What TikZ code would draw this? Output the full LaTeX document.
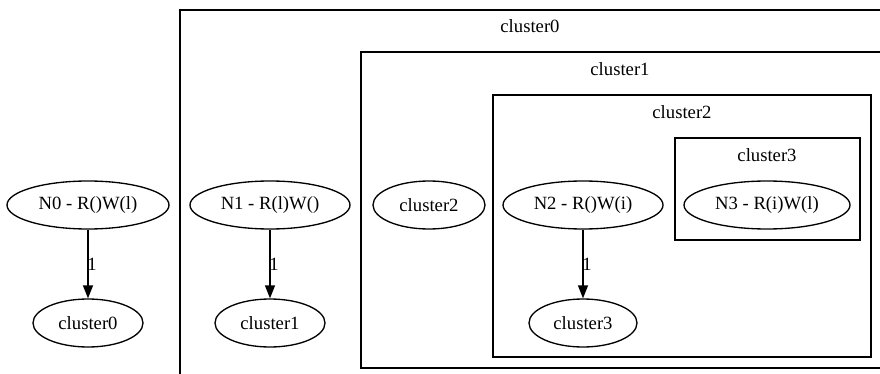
\documentclass[tikz,border=0pt]{standalone}
\usepackage{fontspec}
\setmainfont{Liberation Serif}
\usetikzlibrary{shapes.geometric,arrows.meta}
\begin{document}
\begin{tikzpicture}[x=1pt,y=-1pt,
  every node/.style={font=\fontsize{18.67}{22}\selectfont},
  gnode/.style={draw, ellipse, line width=1.33pt, inner sep=0pt, minimum height=48pt},
  cbox/.style={draw, line width=1.33pt},
  clabel/.style={inner sep=0pt, anchor=center},
  flow/.style={line width=1.33pt, -{Triangle[length=13pt,width=10pt]}},
  elabel/.style={inner sep=0pt, anchor=center}]
  \useasboundingbox (0,0) rectangle (880,374);
  \clip (0,0) rectangle (880,374);

  % nested cluster frames
  \draw[cbox] (180,10) rectangle (900,390);
  \draw[cbox] (361,52) rectangle (890,368);
  \draw[cbox] (493,95) rectangle (871,357);
  \draw[cbox] (675,138) rectangle (860,240);

  % cluster titles
  \node[clabel] (t0) at (530,26) {cluster0};
  \node[clabel] (t1) at (620,69) {cluster1};
  \node[clabel] (t2) at (682,112) {cluster2};
  \node[clabel] (t3) at (767,155) {cluster3};

  % nodes
  \node[gnode, minimum width=162pt] (n0) at (88,205) {N0 - R()W(l)};
  \node[gnode, minimum width=110pt] (c0) at (88,323) {cluster0};
  \node[gnode, minimum width=160pt] (n1) at (270,205) {N1 - R(l)W()};
  \node[gnode, minimum width=110pt] (c1) at (270,323) {cluster1};
  \node[gnode, minimum width=112pt] (c2) at (429,205) {cluster2};
  \node[gnode, minimum width=160pt] (n2) at (583,205) {N2 - R()W(i)};
  \node[gnode, minimum width=108pt] (c3) at (583,323) {cluster3};
  \node[gnode, minimum width=166pt] (n3) at (767,205) {N3 - R(i)W(l)};

  % edges
  \draw[flow] (n0) -- (c0);
  \draw[flow] (n1) -- (c1);
  \draw[flow] (n2) -- (c3);

  % edge labels
  \node[elabel] (l0) at (92,264) {1};
  \node[elabel] (l1) at (274,264) {1};
  \node[elabel] (l2) at (587,264) {1};
\end{tikzpicture}
\end{document}
